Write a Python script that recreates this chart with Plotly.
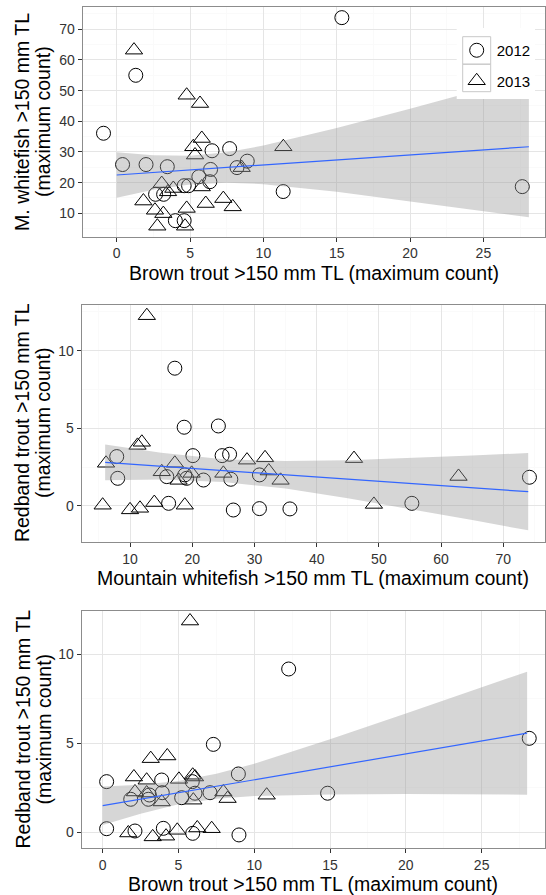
import plotly.graph_objects as go

W, H = 546, 895

# ---------------- data ----------------
# Panel 1: Brown trout (x) vs Mountain whitefish (y)
p1_bt_2012 = [-0.9, 1.3, 0.4, 2.0, 3.45, 2.65, 3.2, 4.0, 4.6, 4.6, 4.9, 5.6, 6.4, 6.35, 6.5, 7.7, 8.2, 8.9, 11.35, 15.35, 27.65]
p1_mwf_2012 = [36.1, 55.0, 25.9, 25.9, 25.2, 16.2, 16.2, 7.6, 7.6, 19.0, 19.0, 21.9, 24.3, 20.3, 30.4, 31.1, 24.9, 27.0, 17.1, 73.8, 18.7]
p1_bt_2013 = [1.18, 4.77, 5.68, 5.8, 5.22, 5.34, 11.36, 3.07, 3.86, 1.82, 2.61, 3.18, 4.77, 2.77, 4.66, 6.07, 7.27, 7.91, 5.8, 8.52, 3.5]
p1_mwf_2013 = [63.2, 48.5, 45.8, 34.4, 31.7, 29.0, 31.7, 19.7, 18.1, 14.0, 11.0, 9.9, 11.6, 5.8, 5.8, 13.2, 14.8, 12.1, 18.6, 24.9, 17.0]
p1_fit_x = [0, 2.5, 5, 7.5, 10, 15, 20, 25, 28.1]
p1_fit = [22.5, 23.3, 24.1, 24.95, 25.8, 27.4, 29.0, 30.7, 31.7]
p1_lo = [15.1, 17.65, 19.4, 20.0, 19.5, 17.0, 13.9, 10.7, 8.7]
p1_hi = [29.9, 28.95, 28.8, 29.9, 32.1, 37.8, 44.1, 50.6, 54.7]

# Panel 2: Mountain whitefish (x) vs Redband trout (y)
p2_mwf_2012 = [7.86, 8.02, 16.2, 17.2, 18.7, 15.9, 18.8, 19.1, 20.1, 21.8, 24.2, 24.8, 26.0, 26.2, 26.6, 30.8, 30.8, 35.7, 55.3, 74.2]
p2_rbt_2012 = [3.18, 1.78, 0.17, 8.87, 5.07, 1.89, 2.0, 1.78, 3.24, 1.67, 5.15, 3.24, 3.33, 1.72, -0.26, 2.0, -0.17, -0.19, 0.17, 1.85]
p2_mwf_2013 = [12.7, 6.14, 5.6, 10.0, 11.6, 13.9, 18.8, 11.2, 11.9, 15.1, 17.2, 17.8, 19.9, 25.0, 28.8, 31.7, 32.3, 34.2, 46.0, 49.2, 62.8]
p2_rbt_2013 = [12.25, 2.75, 0.05, -0.25, -0.15, 0.22, 0.05, 3.9, 4.1, 2.2, 2.75, 1.65, 2.1, 2.1, 2.95, 3.1, 2.25, 1.65, 3.05, 0.1, 1.9]
p2_fit_x = [6, 15, 25, 35, 45, 55, 65, 74]
p2_fit = [2.81, 2.56, 2.28, 2.00, 1.72, 1.45, 1.17, 0.92]
p2_lo = [1.66, 1.70, 1.55, 1.12, 0.50, -0.19, -0.91, -1.57]
p2_hi = [3.96, 3.42, 3.01, 2.89, 2.95, 3.09, 3.25, 3.41]

# Panel 3: Brown trout (x) vs Redband trout (y)
p3_bt_2012 = [0.26, 0.26, 1.85, 2.13, 3.01, 3.08, 3.89, 3.93, 4.0, 5.21, 5.91, 5.94, 6.09, 7.08, 7.3, 8.95, 8.99, 12.27, 14.84, 28.14]
p3_rbt_2012 = [2.84, 0.2, 1.85, 0.07, 1.85, 2.09, 2.93, 2.22, 0.22, 1.94, 2.84, -0.06, 2.19, 2.22, 4.93, 3.27, -0.15, 9.16, 2.19, 5.27]
p3_bt_2013 = [5.76, 3.17, 4.26, 2.06, 2.9, 5.03, 5.94, 6.09, 2.13, 3.89, 5.98, 7.96, 8.24, 10.82, 1.69, 3.3, 4.18, 4.92, 6.24, 7.19, 2.9]
p3_rbt_2013 = [11.85, 4.13, 4.28, 3.1, 2.92, 2.97, 3.2, 3.1, 2.26, 1.7, 1.8, 2.26, 1.89, 2.08, -0.04, -0.26, -0.22, 0.11, 0.24, 0.2, 2.2]
p3_fit_x = [0, 2.5, 5, 7.5, 10, 15, 20, 25, 28]
p3_fit = [1.49, 1.85, 2.22, 2.58, 2.94, 3.67, 4.40, 5.13, 5.56]
p3_lo = [0.41, 1.04, 1.57, 1.88, 2.03, 2.12, 2.14, 2.13, 2.11]
p3_hi = [2.57, 2.66, 2.87, 3.28, 3.85, 5.22, 6.66, 8.13, 9.01]

years = ["2012", "2013"]
x_titles = ["Brown trout >150 mm TL (maximum count)",
            "Mountain whitefish >150 mm TL (maximum count)",
            "Brown trout >150 mm TL (maximum count)"]
y_titles = [["M. whitefish >150 mm TL", "(maximum count)"],
            ["Redband trout >150 mm TL", "(maximum count)"],
            ["Redband trout >150 mm TL", "(maximum count)"]]

# ---------------- layout helpers ----------------
FONT = "Liberation Sans, Arial, Helvetica, sans-serif"
def px(X):
    return X / W
def py(Y):
    return 1 - Y / H

# panel boxes in pixels: (left, right, top, bottom)
boxes = [(82.7, 545.0, 7.3, 236.5),
         (81.7, 545.0, 304.5, 541.7),
         (81.7, 545.0, 610.7, 848.3)]
xranges = [[-2.318, 29.2], [2.23, 76.7], [-1.385, 29.18]]
yranges = [[2.44, 77.17], [-2.30, 12.97], [-0.90, 12.43]]
xticks = [[0, 5, 10, 15, 20, 25], [10, 20, 30, 40, 50, 60, 70], [0, 5, 10, 15, 20, 25]]
xminor = [2.5, 5, 2.5]
yticks = [[10, 20, 30, 40, 50, 60, 70], [0, 5, 10], [0, 5, 10]]
yminor = [5, 2.5, 2.5]

panels = [
    (p1_bt_2012, p1_mwf_2012, p1_bt_2013, p1_mwf_2013, p1_fit_x, p1_fit, p1_lo, p1_hi),
    (p2_mwf_2012, p2_rbt_2012, p2_mwf_2013, p2_rbt_2013, p2_fit_x, p2_fit, p2_lo, p2_hi),
    (p3_bt_2012, p3_rbt_2012, p3_bt_2013, p3_rbt_2013, p3_fit_x, p3_fit, p3_lo, p3_hi),
]

fig = go.Figure()
for i, (x12, y12, x13, y13, fx, fy, flo, fhi) in enumerate(panels):
    xa = "x" if i == 0 else f"x{i+1}"
    ya = "y" if i == 0 else f"y{i+1}"
    fig.add_trace(go.Scatter(x=x12, y=y12, mode="markers", xaxis=xa, yaxis=ya,
                             name=years[0], legendgroup="a", showlegend=(i == 0),
                             marker=dict(symbol="circle-open", size=14, color="black",
                                         line=dict(width=1, color="black"))))
    fig.add_trace(go.Scatter(x=x13, y=y13, mode="markers", xaxis=xa, yaxis=ya,
                             name=years[1], legendgroup="b", showlegend=(i == 0),
                             marker=dict(symbol="triangle-up-open", size=15, color="black",
                                         line=dict(width=1, color="black"))))
    fig.add_trace(go.Scatter(x=list(fx) + list(fx)[::-1], y=list(fhi) + list(flo)[::-1],
                             mode="lines", fill="toself", fillcolor="rgba(153,153,153,0.4)",
                             line=dict(width=0), xaxis=xa, yaxis=ya, showlegend=False,
                             hoverinfo="skip"))
    fig.add_trace(go.Scatter(x=fx, y=fy, mode="lines", line=dict(color="#3366FF", width=1.2),
                             xaxis=xa, yaxis=ya, showlegend=False))

axis_common = dict(showline=True, mirror=True, linecolor="#8c8c8c", linewidth=1,
                   showgrid=True, gridcolor="#e5e5e5", gridwidth=1, zeroline=False,
                   ticks="outside", ticklen=4, tickwidth=1, tickcolor="#333333",
                   tickfont=dict(family=FONT, size=14, color="#333333"), automargin=False)

layout = dict(width=W, height=H, margin=dict(l=0, r=0, t=0, b=0),
              paper_bgcolor="white", plot_bgcolor="white",
              font=dict(family=FONT, color="black"))
annotations = []
for i in range(3):
    L, R, T, B = boxes[i]
    xk = "xaxis" if i == 0 else f"xaxis{i+1}"
    yk = "yaxis" if i == 0 else f"yaxis{i+1}"
    yanc = "y" if i == 0 else f"y{i+1}"
    xanc = "x" if i == 0 else f"x{i+1}"
    layout[xk] = dict(axis_common, domain=[px(L), px(R)], range=xranges[i], anchor=yanc,
                      tickmode="array", tickvals=xticks[i],
                      minor=dict(dtick=xminor[i], tick0=0, showgrid=True, gridcolor="#fafafa", ticks=""))
    layout[yk] = dict(axis_common, domain=[py(B), py(T)], range=yranges[i], anchor=xanc,
                      tickmode="array", tickvals=yticks[i],
                      minor=dict(dtick=yminor[i], tick0=0, showgrid=True, gridcolor="#fafafa", ticks=""))
    annotations.append(dict(text=x_titles[i], xref="paper", yref="paper",
                            x=px((L + R) / 2), y=py(B + 36), xanchor="center", yanchor="middle",
                            showarrow=False, font=dict(family=FONT, size=19.5, color="black")))
    for j, Xc in enumerate([22, 43]):
        annotations.append(dict(text=y_titles[i][j], xref="paper", yref="paper",
                                x=px(Xc), y=py((T + B) / 2), xanchor="center", yanchor="middle",
                                textangle=-90, showarrow=False,
                                font=dict(family=FONT, size=19.5, color="black")))

shapes = [
    dict(type="rect", xref="paper", yref="paper", x0=px(456.7), x1=px(535), y0=py(99), y1=py(28),
         fillcolor="white", line=dict(width=0), layer="above"),
    dict(type="rect", xref="paper", yref="paper", x0=px(462.7), x1=px(490.7), y0=py(64.2), y1=py(36.7),
         fillcolor="rgba(0,0,0,0)", line=dict(width=1, color="#c8c8c8"), layer="above"),
    dict(type="rect", xref="paper", yref="paper", x0=px(462.7), x1=px(490.7), y0=py(91.7), y1=py(64.2),
         fillcolor="rgba(0,0,0,0)", line=dict(width=1, color="#c8c8c8"), layer="above"),
]

layout["annotations"] = annotations
layout["shapes"] = shapes
layout["showlegend"] = True
layout["legend"] = dict(x=px(456.7), y=py(34), xanchor="left", yanchor="top",
                        bgcolor="rgba(0,0,0,0)", borderwidth=0, tracegroupgap=8,
                        font=dict(family=FONT, size=15, color="black"))
fig.update_layout(**layout)
fig.write_html("out.html")
